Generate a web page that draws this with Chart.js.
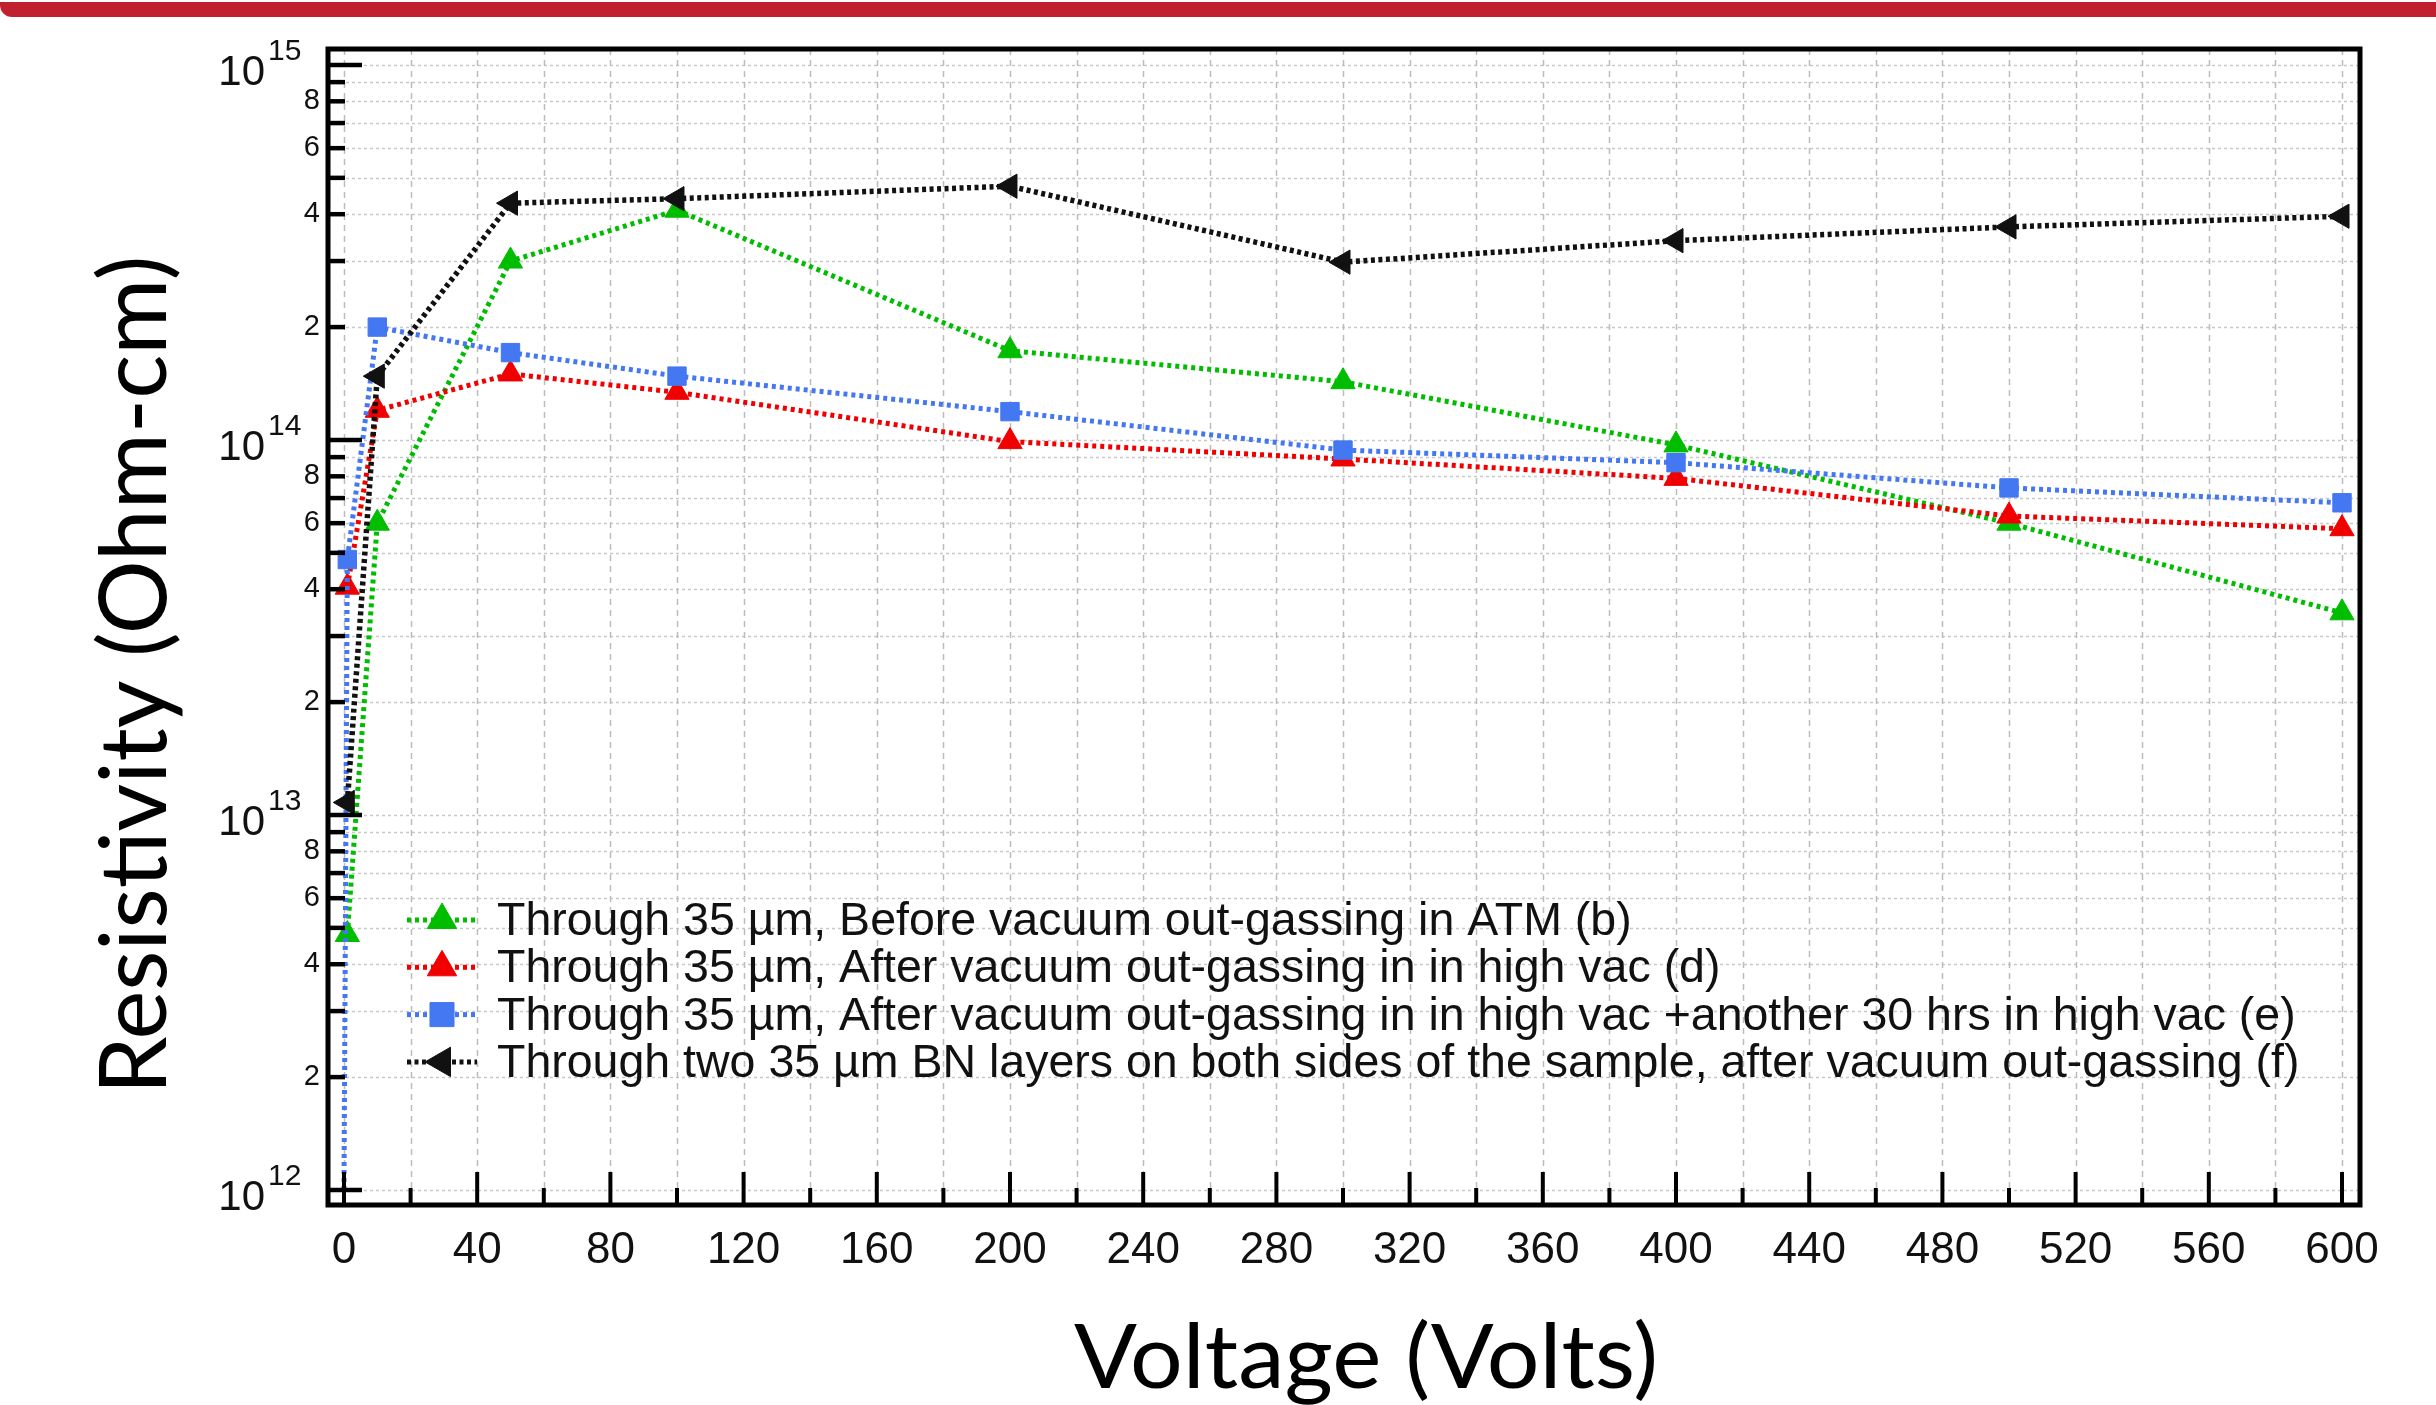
<!DOCTYPE html>
<html>
<head>
<meta charset="utf-8">
<title>Resistivity vs Voltage</title>
<script src="https://cdn.jsdelivr.net/npm/chart.js@4.4.1/dist/chart.umd.min.js"></script>
<style>
  html, body { margin: 0; padding: 0; background: #fff; }
  body { width: 2436px; height: 1405px; position: relative; overflow: hidden; }
  #chart { position: absolute; left: 0; top: 0; }
  #banner { position: absolute; left: 0; top: 2px; width: 2436px; height: 15px; background: #c1212e; border-bottom-left-radius: 12px; }
</style>
</head>
<body>
<canvas id="chart" width="2436" height="1405"></canvas>
<div id="banner"></div>
<script>
// values
const volts = [1, 10, 50, 100, 200, 300, 400, 500, 600];
const beforeOutgassing = [4.8e12, 6.0e13, 3.0e14, 4.1e14, 1.73e14, 1.43e14, 9.7e13, 6.0e13, 3.46e13];
const afterOutgassing = [4.05e13, 1.2e14, 1.5e14, 1.34e14, 9.9e13, 8.9e13, 7.9e13, 6.27e13, 5.8e13];
const blueVolts = [0, 1, 10, 50, 100, 200, 300, 400, 500, 600];
const afterExtra30h = [1e12, 4.8e13, 2.0e14, 1.71e14, 1.48e14, 1.19e14, 9.4e13, 8.7e13, 7.45e13, 6.8e13];
const twoLayers = [1.08e13, 1.48e14, 4.28e14, 4.4e14, 4.75e14, 2.98e14, 3.4e14, 3.7e14, 3.95e14];

const seriesLabels = [
  'Through 35 \u00b5m, Before vacuum out-gassing in ATM (b)',
  'Through 35 \u00b5m, After vacuum out-gassing in in high vac (d)',
  'Through 35 \u00b5m, After vacuum out-gassing in in high vac +another 30 hrs in high vac (e)',
  'Through two 35 \u00b5m BN layers on both sides of the sample, after vacuum out-gassing (f)'
];

// tick labels
const xMajorTicks = [0, 40, 80, 120, 160, 200, 240, 280, 320, 360, 400, 440, 480, 520, 560, 600];
const xMinorTicks = [20, 60, 100, 140, 180, 220, 260, 300, 340, 380, 420, 460, 500, 540, 580];
const yDecades = [1e12, 1e13, 1e14, 1e15];
const yDecadeExponents = ['12', '13', '14', '15'];
const yMinorMultipliers = [2, 3, 4, 5, 6, 7, 8, 9];
const yLabeledMultipliers = [2, 4, 6, 8];

const xTitle = 'Voltage (Volts)';
const yTitle = 'Resistivity (Ohm-cm)';

const FONT = '"Liberation Sans", Arial, Helvetica, sans-serif';
const TITLE_FONT = 'Lato, "Open Sans", sans-serif';

function points(xs, ys) {
  return xs.map((v, i) => ({ x: v, y: ys[i] }));
}

function line(ctx, x1, y1, x2, y2) {
  ctx.beginPath();
  ctx.moveTo(x1, y1);
  ctx.lineTo(x2, y2);
  ctx.stroke();
}

// draw a title squeezed to a given width, centred on (0,0) after the transform
function fittedText(ctx, text, size, targetW) {
  ctx.font = size + 'px ' + TITLE_FONT;
  const w = ctx.measureText(text).width;
  ctx.scale(targetW / w, 1);
  ctx.textAlign = 'center';
  ctx.textBaseline = 'alphabetic';
  ctx.fillText(text, 0, 0);
}

const framePlugin = {
  id: 'frame',
  beforeDatasetsDraw(chart) {
    const { ctx, chartArea: a, scales: { x, y } } = chart;
    ctx.save();
    ctx.lineWidth = 1.5;

    // dotted horizontal grid at every 1..9 x 10^n
    ctx.strokeStyle = '#c8c8c8';
    ctx.setLineDash([3, 3]);
    yDecades.forEach((d, i) => {
      const mults = i < yDecades.length - 1 ? [1].concat(yMinorMultipliers) : [1];
      mults.forEach(m => {
        const py = Math.round(y.getPixelForValue(m * d)) + 0.5;
        line(ctx, a.left, py, a.right, py);
      });
    });

    // dashed vertical grid every 20 V
    ctx.strokeStyle = '#bcbcbc';
    ctx.setLineDash([6, 5]);
    xMajorTicks.concat(xMinorTicks).forEach(v => {
      const px = Math.round(x.getPixelForValue(v)) + 0.5;
      line(ctx, px, a.top, px, a.bottom);
    });
    ctx.restore();
  },
  afterDatasetsDraw(chart) {
    const { ctx, chartArea: a, scales: { x, y } } = chart;
    ctx.save();
    ctx.setLineDash([]);
    ctx.strokeStyle = '#000';
    ctx.fillStyle = '#111';

    // inward ticks
    ctx.lineWidth = 4.5;
    yDecades.forEach((d, i) => {
      const py = y.getPixelForValue(d);
      line(ctx, a.left, py, a.left + 34, py);
      if (i < yDecades.length - 1) {
        yMinorMultipliers.forEach(m => {
          const pm = y.getPixelForValue(m * d);
          line(ctx, a.left, pm, a.left + 17, pm);
        });
      }
    });
    ctx.lineWidth = 4;
    xMajorTicks.forEach(v => {
      const px = x.getPixelForValue(v);
      line(ctx, px, a.bottom, px, a.bottom - 33);
    });
    xMinorTicks.forEach(v => {
      const px = x.getPixelForValue(v);
      line(ctx, px, a.bottom, px, a.bottom - 17);
    });

    // frame
    ctx.lineWidth = 5;
    ctx.strokeRect(a.left, a.top, a.right - a.left, a.bottom - a.top);

    // x tick labels
    ctx.font = '44px ' + FONT;
    ctx.textAlign = 'center';
    ctx.textBaseline = 'alphabetic';
    xMajorTicks.forEach(v => {
      ctx.fillText(String(v), x.getPixelForValue(v), a.bottom + 58);
    });

    // y tick labels
    yDecades.forEach((d, i) => {
      const py = y.getPixelForValue(d);
      ctx.textBaseline = 'alphabetic';
      ctx.font = '42px ' + FONT;
      ctx.textAlign = 'right';
      ctx.fillText('10', a.left - 63, py + 20);
      ctx.font = '30px ' + FONT;
      ctx.textAlign = 'left';
      ctx.fillText(yDecadeExponents[i], a.left - 60, py - 5);
      if (i < yDecades.length - 1) {
        ctx.font = '29px ' + FONT;
        ctx.textAlign = 'right';
        ctx.textBaseline = 'middle';
        yLabeledMultipliers.forEach(m => {
          ctx.fillText(String(m), a.left - 8, y.getPixelForValue(m * d));
        });
      }
    });

    // legend inside the plot
    const drawPoint = Chart.helpers && Chart.helpers.drawPoint;
    chart.data.datasets.forEach((ds, i) => {
      const base = 935 + i * 47.3;
      const cy = base - 15;
      ctx.strokeStyle = ds.borderColor;
      ctx.fillStyle = ds.backgroundColor;
      ctx.lineWidth = 5;
      ctx.setLineDash(ds.borderDash);
      line(ctx, 407, cy, 477, cy);
      ctx.setLineDash([]);
      ctx.lineWidth = 1;
      if (drawPoint) {
        drawPoint(ctx, { pointStyle: ds.pointStyle, rotation: ds.pointRotation, radius: 17, borderWidth: 1 }, 442, cy);
      }
      ctx.fillStyle = '#111';
      ctx.font = '46.5px ' + FONT;
      ctx.textAlign = 'left';
      ctx.textBaseline = 'alphabetic';
      ctx.fillText(ds.label, 497, base);
    });

    // axis titles
    ctx.fillStyle = '#000';
    ctx.save();
    ctx.translate(1366, 1388);
    fittedText(ctx, xTitle, 89, 584);
    ctx.restore();
    ctx.save();
    ctx.translate(166, 675);
    ctx.rotate(-Math.PI / 2);
    fittedText(ctx, yTitle, 93, 839);
    ctx.restore();

    ctx.restore();
  }
};

const common = {
  borderWidth: 5,
  borderDash: [4, 4],
  borderCapStyle: 'butt',
  pointRadius: 14,
  pointHoverRadius: 14,
  pointBorderWidth: 1,
  tension: 0,
  fill: false
};

const ctx = document.getElementById('chart').getContext('2d');
new Chart(ctx, {
  type: 'line',
  data: {
    datasets: [
      Object.assign({}, common, {
        label: seriesLabels[0],
        data: points(volts, beforeOutgassing),
        borderColor: '#00bd00',
        backgroundColor: '#00bd00',
        pointStyle: 'triangle',
        pointRotation: 0,
        order: 4
      }),
      Object.assign({}, common, {
        label: seriesLabels[1],
        data: points(volts, afterOutgassing),
        borderColor: '#f00000',
        backgroundColor: '#f00000',
        pointStyle: 'triangle',
        pointRotation: 0,
        order: 3
      }),
      Object.assign({}, common, {
        label: seriesLabels[2],
        data: points(blueVolts, afterExtra30h),
        borderColor: '#4477f2',
        backgroundColor: '#4477f2',
        pointStyle: 'rect',
        pointRotation: 0,
        // first point sits on the axis floor and has no marker
        pointRadius: c => (c.dataIndex === 0 ? 0 : 13),
        order: 2
      }),
      Object.assign({}, common, {
        label: seriesLabels[3],
        data: points(volts, twoLayers),
        borderColor: '#111111',
        backgroundColor: '#111111',
        borderWidth: 5.5,
        borderDash: [4, 3.5],
        pointStyle: 'triangle',
        pointRotation: -90,
        pointRadius: 14,
        order: 1
      })
    ]
  },
  options: {
    responsive: false,
    animation: false,
    layout: { padding: { left: 328, top: 49, right: 76, bottom: 200 } },
    scales: {
      x: { type: 'linear', min: -4.8, max: 605.4, display: false },
      y: { type: 'logarithmic', min: 9.12e11, max: 1.103e15, display: false }
    },
    plugins: {
      legend: { display: false },
      tooltip: { enabled: false }
    }
  },
  plugins: [framePlugin]
});
</script>
</body>
</html>
